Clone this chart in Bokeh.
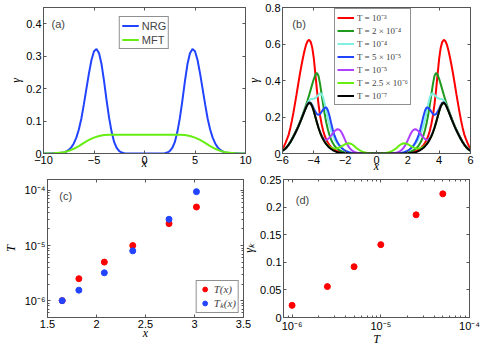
from bokeh.plotting import figure
from bokeh.models import (LinearAxis, FixedTicker, Legend, LegendItem, Label,
                          BasicTickFormatter, CustomJSTickFormatter)
from bokeh.layouts import column, row
from bokeh.embed import file_html
from bokeh.resources import INLINE

# ---------------- data ----------------
# panel (a): left half (x <= 0), curves are mirror-symmetric in x
A_X = [-10.0, -9.5, -9.0, -8.5, -8.0, -7.75, -7.5, -7.25, -7.0, -6.75, -6.5, -6.25,
       -6.0, -5.75, -5.5, -5.25, -5.0, -4.75, -4.5, -4.25, -4.0, -3.75, -3.5, -3.25,
       -3.0, -2.75, -2.5, -2.25, -2.0, -1.5, -1.0, -0.5, 0.0]
NRG = [0.0, 0.0, 0.0005, 0.001, 0.003, 0.006, 0.011, 0.019, 0.031, 0.049, 0.074, 0.108,
       0.152, 0.200, 0.247, 0.288, 0.315, 0.322, 0.309, 0.275, 0.222, 0.163, 0.109, 0.066,
       0.035, 0.017, 0.007, 0.003, 0.001, 0.0, 0.0, 0.0, 0.0]
A_X_MFT = [-10.0, -9.5, -9.0, -8.5, -8.0, -7.5, -7.0, -6.5, -6.0, -5.5, -5.0, -4.5,
           -4.0, -3.5, -3.0, -2.0, -1.0, 0.0]
MFT = [0.0, 0.0003, 0.001, 0.002, 0.004, 0.008, 0.0145, 0.023, 0.033, 0.042, 0.049, 0.054,
       0.057, 0.058, 0.058, 0.058, 0.058, 0.058]

# panel (b): left half, x = -6.0 ... 0.0 in steps of 0.1
B_X = [-6.0, -5.9, -5.8, -5.7, -5.6, -5.5, -5.4, -5.3, -5.2, -5.1,
       -5.0, -4.9, -4.8, -4.7, -4.6, -4.5, -4.4, -4.3, -4.2, -4.1,
       -4.0, -3.9, -3.8, -3.7, -3.6, -3.5, -3.4, -3.3, -3.2, -3.1,
       -3.0, -2.9, -2.8, -2.7, -2.6, -2.5, -2.4, -2.3, -2.2, -2.1,
       -2.0, -1.9, -1.8, -1.7, -1.6, -1.5, -1.4, -1.3, -1.2, -1.1,
       -1.0, -0.9, -0.8, -0.7, -0.6, -0.5, -0.4, -0.3, -0.2, -0.1, 0.0]
G_1e3 = [0.025, 0.040, 0.060, 0.082, 0.105, 0.140, 0.180, 0.225, 0.275, 0.325,
         0.378, 0.430, 0.478, 0.522, 0.562, 0.595, 0.615, 0.623, 0.612, 0.580,
         0.520, 0.435, 0.345, 0.268, 0.207, 0.160, 0.123, 0.096, 0.075, 0.059,
         0.046, 0.036, 0.028, 0.022, 0.017, 0.013, 0.010, 0.008, 0.006, 0.004,
         0.003, 0.002, 0.002, 0.001, 0.001, 0.0, 0.0, 0.0, 0.0, 0.0,
         0.0, 0.0, 0.0, 0.0, 0.0, 0.0, 0.0, 0.0, 0.0, 0.0, 0.0]
G_2e4 = [0.017, 0.022, 0.029, 0.038, 0.050, 0.064, 0.079, 0.095, 0.112, 0.130,
         0.150, 0.171, 0.193, 0.216, 0.240, 0.265, 0.292, 0.320, 0.350, 0.380,
         0.408, 0.432, 0.442, 0.425, 0.380, 0.322, 0.265, 0.212, 0.167, 0.130,
         0.100, 0.077, 0.059, 0.045, 0.034, 0.026, 0.020, 0.015, 0.011, 0.008,
         0.006, 0.004, 0.003, 0.002, 0.001, 0.0, 0.0, 0.0, 0.0, 0.0,
         0.0, 0.0, 0.0, 0.0, 0.0, 0.0, 0.0, 0.0, 0.0, 0.0, 0.0]
G_1e4 = [0.016, 0.021, 0.028, 0.037, 0.049, 0.062, 0.077, 0.093, 0.110, 0.128,
         0.147, 0.168, 0.189, 0.211, 0.234, 0.256, 0.276, 0.290, 0.297, 0.299,
         0.300, 0.304, 0.312, 0.322, 0.329, 0.326, 0.306, 0.270, 0.228, 0.188,
         0.155, 0.127, 0.103, 0.083, 0.067, 0.054, 0.043, 0.034, 0.027, 0.021,
         0.016, 0.012, 0.009, 0.006, 0.004, 0.003, 0.002, 0.001, 0.0, 0.0,
         0.0, 0.0, 0.0, 0.0, 0.0, 0.0, 0.0, 0.0, 0.0, 0.0, 0.0]
G_5e5 = [0.016, 0.021, 0.028, 0.037, 0.049, 0.062, 0.077, 0.093, 0.110, 0.127,
         0.146, 0.166, 0.188, 0.210, 0.232, 0.253, 0.270, 0.280, 0.278, 0.265,
         0.246, 0.228, 0.216, 0.212, 0.217, 0.229, 0.242, 0.251, 0.252, 0.236,
         0.205, 0.168, 0.133, 0.104, 0.081, 0.063, 0.049, 0.038, 0.029, 0.022,
         0.016, 0.011, 0.008, 0.005, 0.003, 0.002, 0.001, 0.0, 0.0, 0.0,
         0.0, 0.0, 0.0, 0.0, 0.0, 0.0, 0.0, 0.0, 0.0, 0.0, 0.0]
G_1e5 = [0.015, 0.021, 0.028, 0.037, 0.049, 0.062, 0.077, 0.093, 0.110, 0.127,
         0.146, 0.166, 0.187, 0.209, 0.231, 0.252, 0.269, 0.278, 0.274, 0.258,
         0.232, 0.201, 0.170, 0.142, 0.118, 0.099, 0.085, 0.077, 0.075, 0.079,
         0.087, 0.098, 0.109, 0.120, 0.128, 0.133, 0.132, 0.125, 0.111, 0.093,
         0.073, 0.055, 0.040, 0.028, 0.019, 0.013, 0.008, 0.005, 0.003, 0.002,
         0.001, 0.0, 0.0, 0.0, 0.0, 0.0, 0.0, 0.0, 0.0, 0.0, 0.0]
G_25e6 = [0.015, 0.021, 0.028, 0.037, 0.049, 0.062, 0.077, 0.093, 0.110, 0.127,
          0.146, 0.166, 0.187, 0.209, 0.231, 0.252, 0.269, 0.278, 0.274, 0.258,
          0.232, 0.200, 0.169, 0.140, 0.115, 0.094, 0.078, 0.064, 0.053, 0.044,
          0.037, 0.032, 0.029, 0.027, 0.027, 0.029, 0.032, 0.036, 0.041, 0.046,
          0.051, 0.054, 0.056, 0.055, 0.052, 0.047, 0.040, 0.032, 0.025, 0.019,
          0.014, 0.010, 0.007, 0.005, 0.003, 0.002, 0.001, 0.001, 0.0, 0.0, 0.0]
G_1e7 = [0.015, 0.021, 0.028, 0.037, 0.049, 0.062, 0.077, 0.093, 0.110, 0.127,
         0.146, 0.166, 0.187, 0.209, 0.231, 0.252, 0.269, 0.278, 0.274, 0.258,
         0.232, 0.200, 0.169, 0.140, 0.115, 0.094, 0.077, 0.062, 0.050, 0.040,
         0.032, 0.025, 0.019, 0.014, 0.010, 0.007, 0.005, 0.004, 0.003, 0.002,
         0.001, 0.001, 0.0, 0.0, 0.0, 0.0, 0.0, 0.0, 0.0, 0.0,
         0.0, 0.0, 0.0, 0.0, 0.0, 0.0, 0.0, 0.0, 0.0, 0.0, 0.0]
B_SERIES = [("T = 10⁻³", "#ff0000", G_1e3),
            ("T = 2 × 10⁻⁴", "#1f9a1f", G_2e4),
            ("T = 10⁻⁴", "#80f0e0", G_1e4),
            ("T = 5 × 10⁻⁵", "#2244ff", G_5e5),
            ("T = 10⁻⁵", "#b040ff", G_1e5),
            ("T = 2.5 × 10⁻⁶", "#66ee11", G_25e6),
            ("T = 10⁻⁷", "#000000", G_1e7)]

# panel (c)
C_X = [1.65, 1.82, 2.08, 2.37, 2.74, 3.02]
C_T = [1e-6, 2.5e-6, 5e-6, 1e-5, 2.5e-5, 5e-5]
C_TK = [1e-6, 1.55e-6, 3.2e-6, 8.0e-6, 3.0e-5, 9.5e-5]

# panel (d)
D_T = [1e-6, 2.5e-6, 5e-6, 1e-5, 2.5e-5, 5e-5]
D_GK = [0.022, 0.056, 0.092, 0.132, 0.186, 0.224]

A_XTICKS = [-10, -5, 0, 5, 10]
A_YTICKS = [0, 0.1, 0.2, 0.3, 0.4]
B_XTICKS = [-6, -4, -2, 0, 2, 4, 6]
B_YTICKS = [0, 0.2, 0.4, 0.6, 0.8]
C_XTICKS = [1.5, 2, 2.5, 3, 3.5]
C_YTICKS = [1e-6, 1e-5, 1e-4]
C_YLABELS = {1e-6: "10⁻⁶", 1e-5: "10⁻⁵", 1e-4: "10⁻⁴"}
D_XTICKS = [1e-6, 1e-5, 1e-4]
D_XLABELS = {1e-6: "10⁻⁶", 1e-5: "10⁻⁵", 1e-4: "10⁻⁴"}
D_YTICKS = [0, 0.05, 0.1, 0.15, 0.2, 0.25]
LOG_MINOR = [k * 10.0 ** e for e in (-7, -6, -5, -4) for k in range(2, 10)]


def mirror(xh, yh):
    x = list(xh) + [-v for v in reversed(xh[:-1])]
    y = list(yh) + list(reversed(yh[:-1]))
    return x, y


# ---------------- styling ----------------
AXC = "#555555"
SANS = "Liberation Sans"
SERIF = "Liberation Serif"


def style_axis(ax, ticks, minor=None, labels=True, overrides=None):
    ax.ticker = FixedTicker(ticks=ticks, minor_ticks=minor or [])
    ax.major_tick_in = 3
    ax.major_tick_out = 0
    ax.minor_tick_in = 2 if minor else 0
    ax.minor_tick_out = 0
    ax.axis_line_color = AXC
    ax.major_tick_line_color = AXC
    ax.minor_tick_line_color = AXC
    ax.major_label_text_font = SANS
    ax.major_label_text_color = "black"
    ax.major_label_text_font_size = "11px"
    if labels:
        ax.formatter = BasicTickFormatter()
        ax.major_label_standoff = 2
        if overrides:
            ax.major_label_overrides = overrides
    else:
        ax.formatter = CustomJSTickFormatter(code="return ''")
        ax.major_label_standoff = 0


def axis_title(ax, text, standoff):
    ax.axis_label = text
    ax.axis_label_standoff = standoff
    ax.axis_label_text_font = SERIF
    ax.axis_label_text_font_style = "italic"
    ax.axis_label_text_font_size = "12px"
    ax.axis_label_text_color = "black"


def make_fig(w, h, xr, yr, bl, br, bt, bb, xlog=False, ylog=False, styles=None):
    kw = dict(styles=styles) if styles else {}
    p = figure(width=w, height=h, x_range=xr, y_range=yr,
               x_axis_type="log" if xlog else "linear",
               y_axis_type="log" if ylog else "linear",
               output_backend="svg", toolbar_location=None,
               min_border_left=bl, min_border_right=br,
               min_border_top=bt, min_border_bottom=bb, **kw)
    p.grid.visible = False
    p.outline_line_color = AXC
    p.background_fill_color = "white"
    p.border_fill_alpha = 0
    return p


def add_box_axes(p, xt, yt, xminor=None, yminor=None):
    top = LinearAxis()
    right = LinearAxis()
    style_axis(top, xt, xminor, labels=False)
    style_axis(right, yt, yminor, labels=False)
    p.add_layout(top, "above")
    p.add_layout(right, "right")


def panel_label(p, x, y, text):
    p.add_layout(Label(x=x, y=y, text=text, text_font=SANS, text_font_size="11px",
                       text_align="left", text_baseline="middle"))


def legend(items, **kw):
    base = dict(border_line_color="#222222", background_fill_alpha=1)
    base.update(kw)
    return Legend(items=items, **base)


# ---------------- panel (a) ----------------
pa = make_fig(256, 183, (-10, 10), (0, 0.45), 43, 11, 7, 30)
style_axis(pa.xaxis[0], A_XTICKS)
style_axis(pa.yaxis[0], A_YTICKS)
axis_title(pa.xaxis[0], "x", -11)
axis_title(pa.yaxis[0], "γ", 0)
add_box_axes(pa, A_XTICKS, A_YTICKS)
xa, ya = mirror(A_X, NRG)
ra1 = pa.line(xa, ya, line_color="#2244ff", line_width=2)
xm, ym = mirror(A_X_MFT, MFT)
ra2 = pa.line(xm, ym, line_color="#66ee11", line_width=2)
pa.add_layout(legend([LegendItem(label="NRG", renderers=[ra1]),
                      LegendItem(label="MFT", renderers=[ra2])],
                     location="top_center", margin=9, padding=2, spacing=1,
                     glyph_width=17, glyph_height=13, label_height=13, label_standoff=3,
                     label_text_font=SANS, label_text_font_size="11px"))
panel_label(pa, -9.2, 0.398, "(a)")

# ---------------- panel (b) ----------------
pb = make_fig(241, 183, (-6, 6), (0, 0.8), 35, 15, 7, 30,
              styles={"margin-left": "-12px"})
style_axis(pb.xaxis[0], B_XTICKS)
style_axis(pb.yaxis[0], B_YTICKS)
axis_title(pb.xaxis[0], "x", -8)
axis_title(pb.yaxis[0], "γ", 1)
add_box_axes(pb, B_XTICKS, B_YTICKS)
items_b = []
for name, col, ys in B_SERIES:
    xx, yy = mirror(B_X, ys)
    r = pb.line(xx, yy, line_color=col, line_width=2)
    items_b.append(LegendItem(label=name, renderers=[r]))
pb.add_layout(legend(items_b, location=(52, 48), margin=0, padding=2, spacing=0,
                     glyph_width=17, glyph_height=9, label_height=9, label_standoff=3,
                     label_text_font=SERIF, label_text_font_size="9px"))
panel_label(pb, -5.37, 0.707, "(b)")

# ---------------- panel (c) ----------------
pc = make_fig(258, 176, (1.5, 3.5), (4.94e-7, 1.58e-4), 43, 15, 7, 30, ylog=True)
style_axis(pc.xaxis[0], C_XTICKS)
style_axis(pc.yaxis[0], C_YTICKS, LOG_MINOR, overrides=C_YLABELS)
axis_title(pc.xaxis[0], "x", -5)
axis_title(pc.yaxis[0], "T", 4)
add_box_axes(pc, C_XTICKS, C_YTICKS, yminor=LOG_MINOR)
rc1 = pc.scatter(C_X, C_T, size=6, color="#ff0000")
rc2 = pc.scatter(C_X, C_TK, size=6, color="#2244ff")
pc.add_layout(legend([LegendItem(label="T(x)", renderers=[rc1]),
                      LegendItem(label="Tₖ(x)", renderers=[rc2])],
                     location="bottom_right", margin=4, padding=2, spacing=0,
                     glyph_width=12, glyph_height=12, label_height=12, label_standoff=3,
                     label_text_font=SERIF, label_text_font_style="italic",
                     label_text_font_size="11px"))
panel_label(pc, 1.62, 7.8e-5, "(c)")

# ---------------- panel (d) ----------------
pd = make_fig(246, 176, (8.0e-7, 1e-4), (0, 0.25), 39, 16, 6, 29, xlog=True,
              styles={"margin-left": "-19px"})
style_axis(pd.xaxis[0], D_XTICKS, LOG_MINOR, overrides=D_XLABELS)
style_axis(pd.yaxis[0], D_YTICKS)
axis_title(pd.xaxis[0], "T", -3)
axis_title(pd.yaxis[0], "γₖ", 1)
add_box_axes(pd, D_XTICKS, D_YTICKS, xminor=LOG_MINOR)
pd.scatter(D_T, D_GK, size=6, color="#ff0000")
panel_label(pd, 1.1e-6, 0.2137, "(d)")

row1 = row(pa, pb)
row2 = row(pc, pd, styles={"margin-top": "-11px"})
layout = column(row1, row2)
open("out.html", "w").write(file_html(layout, INLINE))
